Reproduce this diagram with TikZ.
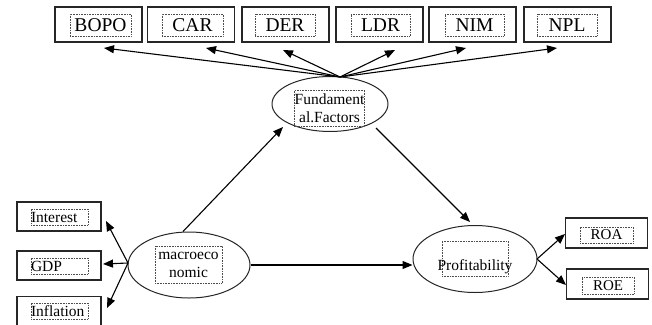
\documentclass[tikz,border=0pt]{standalone}
\usepackage{fontspec}
\setmainfont{Liberation Serif}
\usetikzlibrary{shapes.geometric,arrows.meta}
\tikzset{
  box/.style={draw=black!85, line width=1.1pt, inner sep=0pt},
  topbox/.style={box, minimum width=87pt, minimum height=35pt},
  sidebox/.style={box, minimum width=84pt, minimum height=29pt},
  rbox/.style={box, minimum width=82pt, minimum height=30pt},
  dotbox/.style={draw=black!70, densely dotted, line width=0.6pt, inner sep=0pt},
  bigtxt/.style={font=\fontsize{19.5}{22}\selectfont},
  smalltxt/.style={font=\fontsize{15.5}{16}\selectfont},
  rtxt/.style={font=\fontsize{15}{16}\selectfont},
  midtxt/.style={font=\fontsize{15.5}{18}\selectfont},
  ell/.style={draw=black!85, ellipse, line width=1pt, inner sep=0pt},
  arr/.style={line width=1.1pt, -{Triangle[length=10pt,width=8pt]}},
  ln/.style={line width=1.1pt}
}
\begin{document}
\begin{tikzpicture}[x=1pt,y=-1pt]
\useasboundingbox (0,0) rectangle (652,324);
% top boxes
\node[topbox] (bopo) at (98.5,24.5) {};
\node[topbox] (car)  at (191,24.5) {};
\node[topbox] (der)  at (285.5,24.5) {};
\node[topbox] (ldr)  at (379.5,24.5) {};
\node[topbox] (nim)  at (472.5,24.5) {};
\node[topbox] (npl)  at (567.5,24.5) {};
\node[dotbox,bigtxt,minimum width=61pt,minimum height=22pt] (bopot) at (100.5,25) {BOPO};
\node[dotbox,bigtxt,minimum width=61pt,minimum height=22pt] (cart)  at (192.5,25) {CAR};
\node[dotbox,bigtxt,minimum width=60pt,minimum height=22pt] (dert)  at (285,25) {DER};
\node[dotbox,bigtxt,minimum width=59pt,minimum height=22pt] (ldrt)  at (380.5,25) {LDR};
\node[dotbox,bigtxt,minimum width=59pt,minimum height=22pt] (nimt)  at (474.5,25) {NIM};
\node[dotbox,bigtxt,minimum width=60pt,minimum height=22pt] (nplt)  at (567,25) {NPL};
% fundamental factors
\node[ell,minimum width=116pt,minimum height=55pt] (fund) at (330,104) {};
\node[dotbox,midtxt,align=center,minimum width=59pt,minimum height=36pt] (fundt) at (329.5,108) {Fundament\\al.Factors};
\coordinate (ftop) at (340,77);
\coordinate (t1) at (104,48);
\coordinate (t2) at (206,48);
\coordinate (t3) at (283,50);
\coordinate (t4) at (395,50);
\coordinate (t5) at (466,48);
\coordinate (t6) at (557,48);
\foreach \t in {t1,t2,t3,t4,t5,t6} \draw[arr] (ftop) -- (\t);
% macroeconomic
\node[ell,minimum width=122pt,minimum height=66pt] (macro) at (189,265) {};
\node[dotbox,midtxt,align=center,minimum width=67pt,minimum height=37pt] (macrot) at (188.5,264.5) {macroeco\\nomic};
% left boxes
\node[sidebox] (int) at (59,216.5) {};
\node[sidebox] (gdp) at (59,265.5) {};
\node[sidebox] (inf) at (59,311) {};
\node[dotbox,smalltxt,text width=57pt,minimum height=16pt,align=left] (intt) at (59.5,217) {Interest};
\node[dotbox,smalltxt,text width=57pt,minimum height=16pt,align=left] (gdpt) at (59.5,266) {GDP};
\node[dotbox,smalltxt,text width=57pt,minimum height=16pt,align=left] (inft) at (59.5,311) {Inflation};
\coordinate (mleft) at (128,263);
\coordinate (l1) at (106,221);
\coordinate (l2) at (103,264);
\coordinate (l3) at (107,308);
\draw[arr] (mleft) -- (l1);
\draw[arr] (mleft) -- (l2);
\draw[arr] (mleft) -- (l3);
% profitability
\node[ell,minimum width=124pt,minimum height=67pt] (prof) at (475,259) {};
\node[dotbox,minimum width=66pt,minimum height=35pt] (proft) at (475,258.5) {};
\node[midtxt,inner sep=0pt] (profl) at (475,267) {Profitability};
% ROA ROE
\node[rbox] (roa) at (606.5,233) {};
\node[rbox] (roe) at (607.5,284) {};
\node[dotbox,rtxt,minimum width=53pt,minimum height=16pt] (roat) at (606.5,235) {ROA};
\node[dotbox,rtxt,minimum width=52pt,minimum height=17pt] (roet) at (608,285.5) {ROE};
\coordinate (pright) at (537,259);
\coordinate (r1) at (565,234);
\coordinate (r2) at (566,285);
\draw[arr] (pright) -- (r1);
\draw[arr] (pright) -- (r2);
% main links
\draw[arr] (macro.north) ++(-6,0) coordinate (mtop) -- (283,127) coordinate (fll);
\draw[arr] (376,128) coordinate (flr) -- (470,222) coordinate (ptop);
\draw[arr] (macro.east) -- (prof.west |- macro.east);
\end{tikzpicture}
\end{document}
